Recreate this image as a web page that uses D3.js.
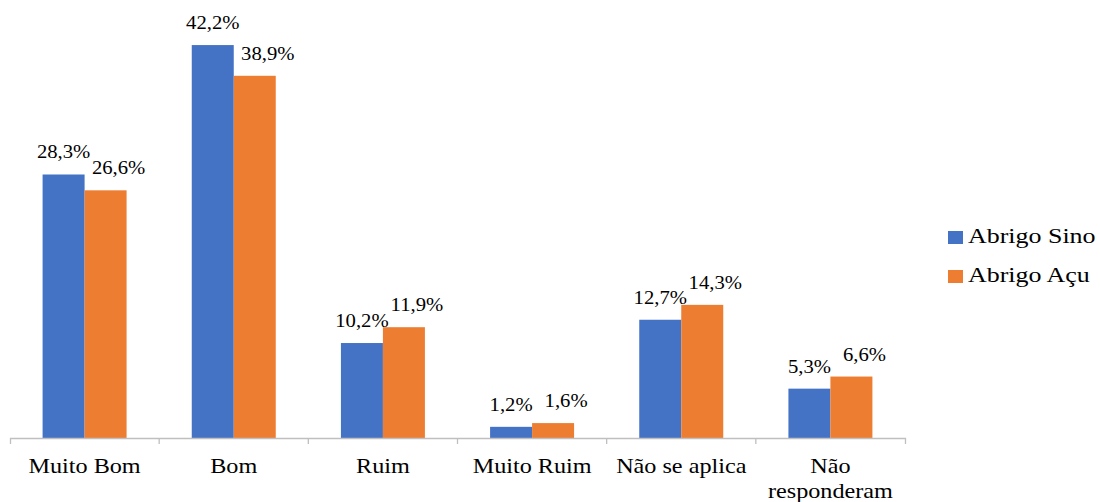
<!DOCTYPE html>
<html lang="pt">
<head>
    <meta charset="UTF-8">
    <title>Avaliação - Abrigo Sino e Abrigo Açu</title>
    <script src="https://d3js.org/d3.v7.min.js"></script>
    <style>
        body { margin: 0; background: #fff; }
    </style>
</head>
<body>
    <div id="chart"></div>
    <script>
        // data
        const categories = ["Muito Bom", "Bom", "Ruim", "Muito Ruim", "Não se aplica", "Não responderam"];
        const series = ["Abrigo Sino", "Abrigo Açu"];
        const sinoValues = [28.3, 42.2, 10.2, 1.2, 12.7, 5.3];
        const acuValues = [26.6, 38.9, 11.9, 1.6, 14.3, 6.6];
        const colors = ["#4472C4", "#ED7D31"];

        const width = 1100, height = 502;
        const serifFont = "'Liberation Serif', 'Times New Roman', serif";

        const svg = d3.select("#chart").append("svg")
            .attr("width", width)
            .attr("height", height);

        const x = d3.scaleBand()
            .domain(categories)
            .range([10, 905])
            .paddingInner(0)
            .paddingOuter(0);

        const xs = d3.scaleBand()
            .domain(series)
            .range([0, x.bandwidth()])
            .paddingInner(0)
            .paddingOuter(0.776);

        const y = d3.scaleLinear()
            .domain([0, 45])
            .range([438, 19]);

        const color = d3.scaleOrdinal().domain(series).range(colors);

        const rows = categories.map((c, i) => ({
            cat: c,
            vals: [
                { s: series[0], v: sinoValues[i] },
                { s: series[1], v: acuValues[i] }
            ]
        }));

        // bars
        const groups = svg.append("g").selectAll("g")
            .data(rows)
            .join("g")
            .attr("transform", d => "translate(" + x(d.cat) + ",0)");

        groups.selectAll("rect")
            .data(d => d.vals)
            .join("rect")
            .attr("x", d => xs(d.s))
            .attr("y", d => y(d.v))
            .attr("width", xs.bandwidth())
            .attr("height", d => y(0) - y(d.v))
            .attr("fill", d => color(d.s));

        // value labels (the orange ones sit a little to the right, as in the original)
        groups.selectAll("text.val")
            .data(d => d.vals)
            .join("text")
            .attr("class", "val")
            .attr("text-anchor", "middle")
            .attr("transform", (d, i) => "translate(" + (xs(d.s) + xs.bandwidth() / 2 + (i === 1 ? 13 : 0)) + "," + (y(d.v) - 16) + ") scale(1.15,1)")
            .style("font-family", serifFont)
            .style("font-size", "18px")
            .attr("fill", "#000")
            .text(d => d.v.toFixed(1).replace(".", ",") + "%");

        // x axis
        const axis = svg.append("g")
            .attr("transform", "translate(0," + y(0) + ")")
            .call(d3.axisBottom(x).tickSizeInner(0).tickSizeOuter(6).tickPadding(0));

        axis.select(".domain").attr("stroke", "#bfbfbf").attr("stroke-width", 1.3);

        // boundary ticks between categories
        axis.selectAll("line.sep")
            .data(categories.slice(1))
            .join("line")
            .attr("class", "sep")
            .attr("x1", d => x(d))
            .attr("x2", d => x(d))
            .attr("y1", 0)
            .attr("y2", 6)
            .attr("stroke", "#bfbfbf")
            .attr("stroke-width", 1.3);

        axis.selectAll(".tick text").each(function (d) {
            const t = d3.select(this);
            t.text(null)
                .attr("y", 0)
                .attr("dy", null)
                .attr("transform", "scale(1.1,1)")
                .style("font-family", serifFont)
                .style("font-size", "22px")
                .attr("fill", "#000");
            const words = d === "Não responderam" ? ["Não", "responderam"] : [d];
            words.forEach((w, i) => {
                t.append("tspan").attr("x", 0).attr("y", 35 + i * 25).text(w);
            });
        });

        // legend
        const legend = svg.append("g").selectAll("g")
            .data(series)
            .join("g")
            .attr("transform", (d, i) => "translate(948," + (231 + i * 39) + ")");

        legend.append("rect")
            .attr("width", 15)
            .attr("height", 13)
            .attr("fill", d => color(d));

        legend.append("text")
            .attr("transform", "translate(20,12) scale(1.18,1)")
            .style("font-family", serifFont)
            .style("font-size", "22px")
            .attr("fill", "#000")
            .text(d => d);
    </script>
</body>
</html>
